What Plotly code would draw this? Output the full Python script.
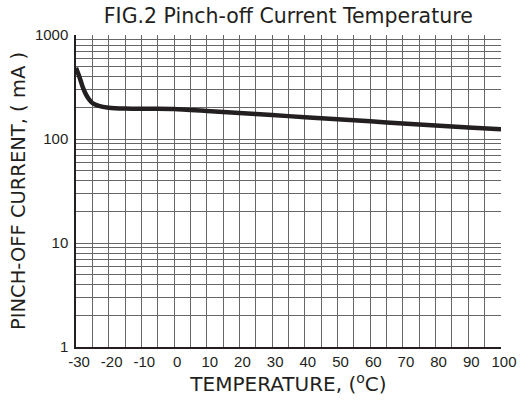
import plotly.graph_objects as go

temp_c = [-30, -29, -28, -27, -26, -25, -23, -20, -15, -10, -5, 0, 10, 20, 30, 40, 50, 60, 70, 80, 90, 100]
current_ma = [485, 400, 320, 270, 240, 222, 208, 200, 196, 195, 195, 194, 186, 178, 170, 162, 155, 148, 141, 135, 129, 124]

x_grid = list(range(-30, 101, 5))
x_labels = [str(v) if v % 10 == 0 else "" for v in x_grid]
y_grid = [m * 10 ** d for d in range(0, 3) for m in range(1, 10)] + [1000]
y_labels = [str(v) if v in (1, 10, 100, 1000) else "" for v in y_grid]

fig = go.Figure()
fig.add_trace(go.Scatter(x=temp_c, y=current_ma, mode="lines",
                         line=dict(color="#231f20", width=4.5, shape="spline", smoothing=0.6),
                         showlegend=False, hoverinfo="skip"))

tickf = dict(family="Liberation Sans, Arial, sans-serif", size=15, color="#231f20")
titlef = "DejaVu Sans, sans-serif"
fig.update_layout(
    width=529, height=405,
    margin=dict(l=76, r=24, t=35, b=58),
    paper_bgcolor="white", plot_bgcolor="white",
    title=dict(text="FIG.2 Pinch-off Current Temperature", x=0.545, xanchor="center",
               y=0.96, yanchor="middle",
               font=dict(family=titlef, size=20.5, color="#231f20")),
    xaxis=dict(range=[-30, 100], tickmode="array", tickvals=x_grid, ticktext=x_labels,
               showgrid=True, gridcolor="#666", gridwidth=1, zeroline=False,
               showline=True, linecolor="#231f20", linewidth=1.5, ticks="",
               tickfont=tickf, ticklabelshift=3,
               title=dict(text="TEMPERATURE, (<sup>o</sup>C)", standoff=2,
                          font=dict(family=titlef, size=20, color="#231f20"))),
    yaxis=dict(type="log", range=[0, 3], tickmode="array", tickvals=y_grid, ticktext=y_labels,
               showgrid=True, gridcolor="#666", gridwidth=1, zeroline=False,
               showline=True, linecolor="#231f20", linewidth=1.5, ticks="",
               tickfont=tickf, ticklabelstandoff=3,
               title=dict(text="PINCH-OFF CURRENT, ( mA )", standoff=4,
                          font=dict(family=titlef, size=19.5, color="#231f20"))),
)
fig.write_html("out.html")
